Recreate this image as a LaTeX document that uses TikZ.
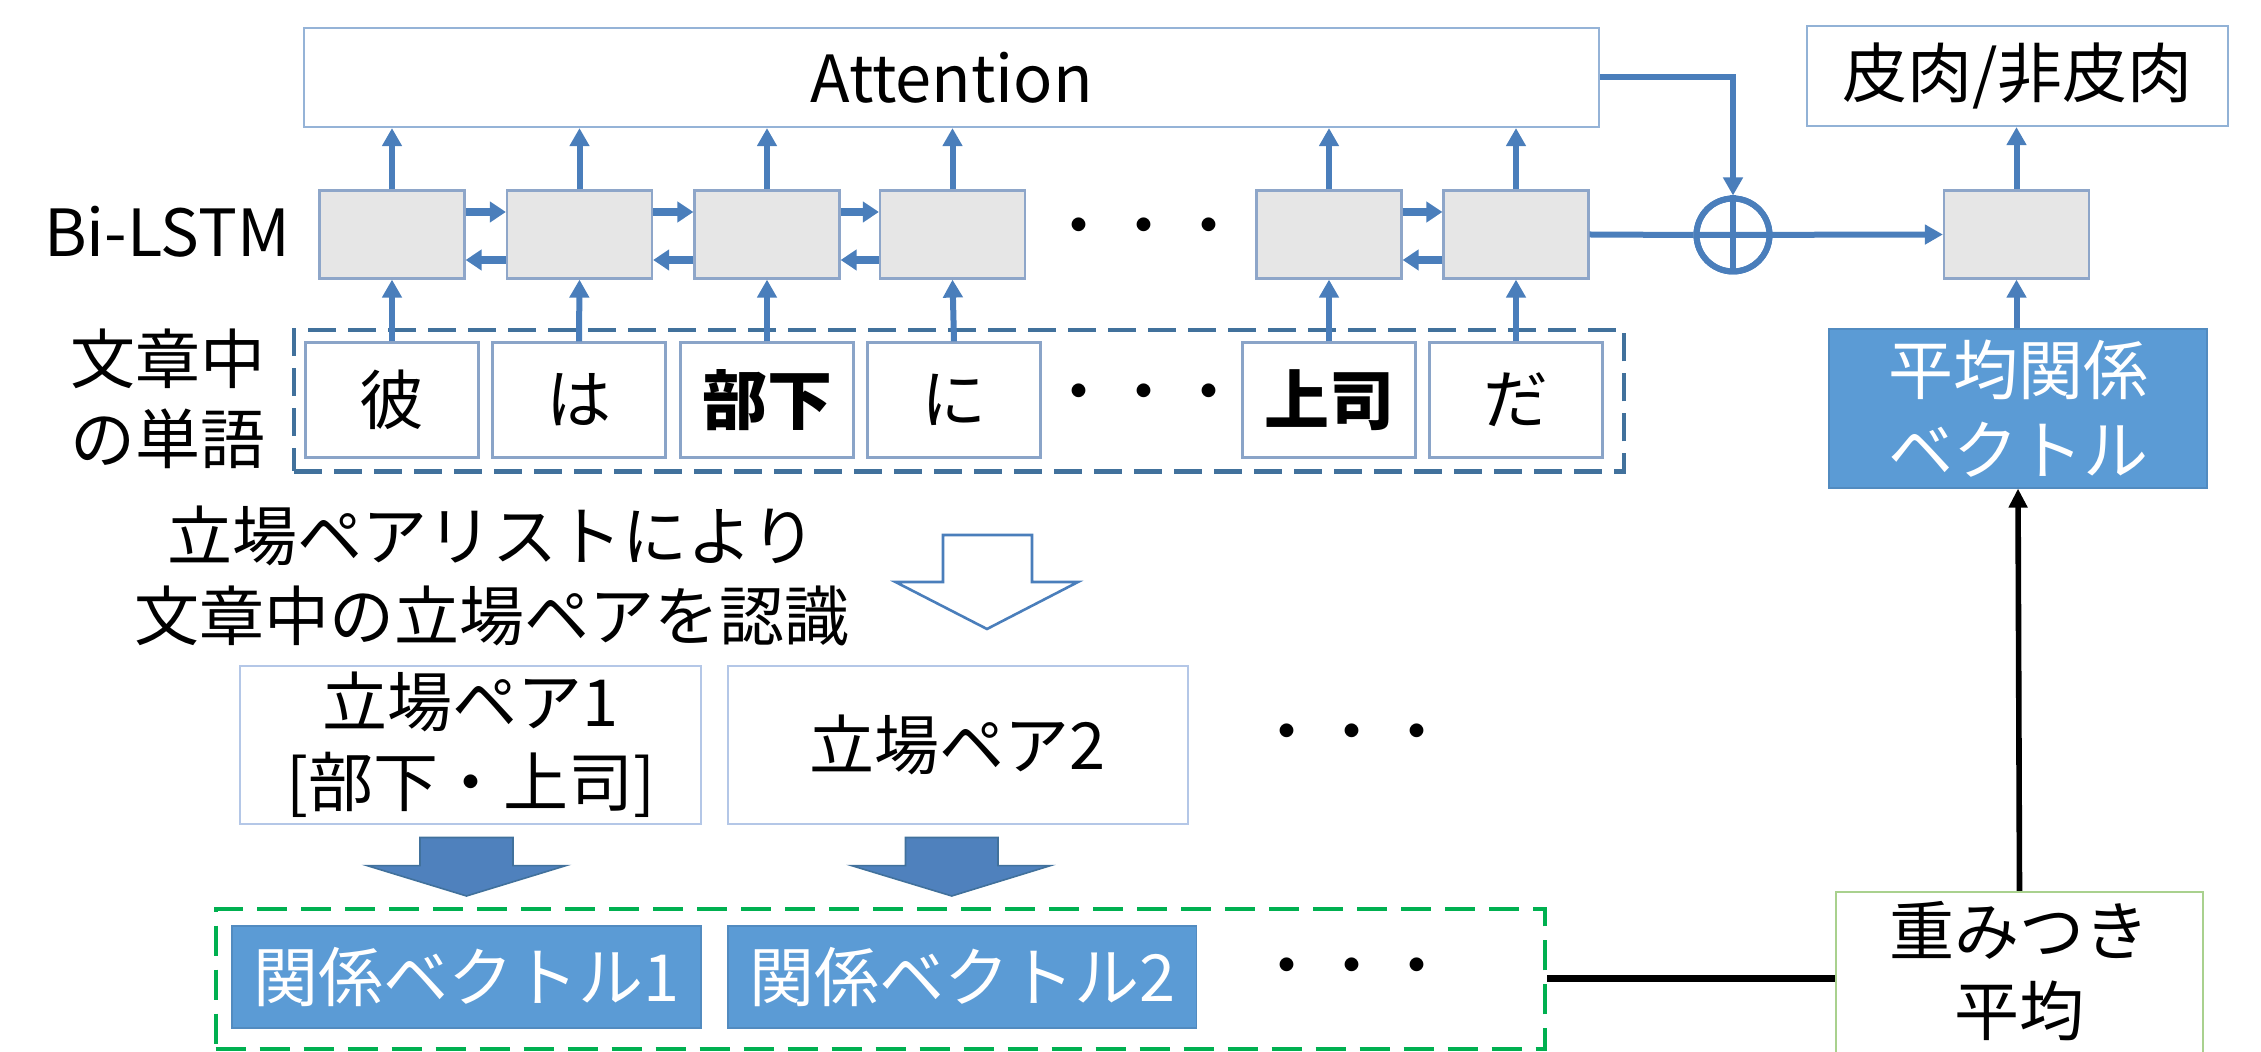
\documentclass[tikz,border=0pt]{standalone}
\usepackage{fontspec}
\setmainfont{Noto Sans CJK JP}
\usetikzlibrary{arrows.meta,calc}
\definecolor{lineblue}{HTML}{4A7EBB}
\definecolor{lstmfill}{HTML}{E6E6E6}
\definecolor{lstmborder}{HTML}{8EA6C9}
\definecolor{attborder}{HTML}{95B3D7}
\definecolor{wordborder}{HTML}{8AA4C8}
\definecolor{dashblue}{HTML}{41719C}
\definecolor{vecfill}{HTML}{5B9BD5}
\definecolor{pairborder}{HTML}{B4C7E7}
\definecolor{wavgborder}{HTML}{A9D18E}
\definecolor{framegreen}{HTML}{00B050}
\definecolor{bigarrowfill}{HTML}{4F81BD}
\definecolor{bigarrowdraw}{HTML}{41719C}
\begin{document}
\begin{tikzpicture}[x=0.5pt,y=-0.5pt,
  every node/.style={font=\fontsize{32.5pt}{40pt}\selectfont, inner sep=0pt, align=center},
  attbox/.style={draw=attborder, line width=1.1pt, fill=white},
  lstm/.style={draw=lstmborder, line width=1.1pt, fill=lstmfill, minimum width=72.5pt, minimum height=44pt},
  word/.style={draw=wordborder, line width=1.1pt, fill=white, minimum width=86.5pt, minimum height=57.5pt},
  pairbox/.style={draw=pairborder, line width=1.1pt, fill=white, minimum height=79pt},
  vecbox/.style={fill=vecfill, draw=vecfill!90!black, line width=0.6pt, text=white},
  upar/.style={draw=lineblue, line width=3pt, -{Triangle[width=9.5pt,length=9pt]}},
  sidear/.style={draw=lineblue, line width=4pt, -{Triangle[width=10pt,length=8pt]}},
  blackar/.style={draw=black, line width=2.8pt, -{Triangle[width=9pt,length=9.5pt]}},
  dots/.style={font=\fontsize{32.5pt}{40pt}\selectfont}
]
\useasboundingbox (0,0) rectangle (2261,1052);

% Attention
\node[attbox, minimum width=647.5pt, minimum height=49.5pt] (att) at (951.5,77.5) {Attention};

% output
\node[attbox, draw=lineblue!60, minimum width=210.5pt, minimum height=50pt] (out) at (2017.5,76) {皮肉/非皮肉};

% labels
\node (lbl) at (167,232) {Bi-LSTM};
\node (lblw) at (168,399) {文章中\\の単語};

% word frame
\node[draw=dashblue, line width=2.2pt, dash pattern=on 14pt off 6pt, minimum width=665pt, minimum height=70.75pt] (wframe) at (959,400.75) {};

% LSTM boxes
\node[lstm] (l1) at (392,234.5) {};
\node[lstm] (l2) at (579.5,234.5) {};
\node[lstm] (l3) at (767,234.5) {};
\node[lstm] (l4) at (952.5,234.5) {};
\node[lstm] (l5) at (1329,234.5) {};
\node[lstm] (l6) at (1516,234.5) {};
\node[lstm] (lf) at (2016.5,234.5) {};
\node[dots] (ldots) at (1144,234) {・・・};

% word boxes
\node[word] (w1) at (392,400) {彼};
\node[word] (w2) at (579,400) {は};
\node[word] (w3) at (767,400) {\bfseries 部下};
\node[word] (w4) at (954,400) {に};
\node[word] (w5) at (1329,400) {\bfseries 上司};
\node[word] (w6) at (1516,400) {だ};
\node[dots] (wdots) at (1144,400) {・・・};

% vertical arrows
\foreach \i in {1,...,6} {
  \draw[upar] (w\i.north) -- (l\i.south);
  \draw[upar] (l\i.north) -- (att.south -| l\i.north);
}
% horizontal bidirectional arrows
\foreach \a/\b in {l1/l2,l2/l3,l3/l4,l5/l6} {
  \draw[sidear] ([yshift=11.25pt]\a.east) -- ([yshift=11.25pt]\b.west);
  \draw[sidear] ([yshift=-12.75pt]\b.west) -- ([yshift=-12.75pt]\a.east);
}

% plus circle
\node[circle, draw=lineblue, line width=3pt, minimum size=36.5pt, fill=white] (plus) at (1733,235) {};
\draw[draw=lineblue, line width=3pt] (l6.east) -- (plus.west);
\draw[upar] (plus.west) -- (lf.west);
\draw[draw=lineblue, line width=3pt] (plus.north) -- (plus.south);
\node[circle, draw=lineblue, line width=3pt, minimum size=36.5pt] (plusring) at (plus) {};
\draw[upar, line join=miter] (att.east) -| (plus.north);

% average vector
\node[vecbox, minimum width=189pt, minimum height=79.5pt] (avg) at (2018,408.5) {平均関係\\ベクトル};
\draw[upar] (lf.north) -- (out.south -| lf.north);
\draw[upar] (avg.north -| lf.south) -- (lf.south);

% recognition text
\node (rec) at (492,576) {立場ペアリストにより\\文章中の立場ペアを認識};
\draw[draw=lineblue, line width=1.3pt, fill=white] (943,535) -- (1032,535) -- (1032,582) -- (1078,582) -- (987,629) -- (895.5,582) -- (943,582) -- cycle;

% pair boxes
\node[pairbox, minimum width=230.5pt] (p1) at (470.5,745) {立場ペア1\\{}[部下・上司]};
\node[pairbox, minimum width=230pt] (p2) at (958,745) {立場ペア2};
\node[dots] (pdots) at (1352,740) {・・・};

% filled arrows
\draw[fill=bigarrowfill, draw=bigarrowdraw, line width=0.8pt] (420,837.5) -- (513,837.5) -- (513,865.6) -- (566,865.6) -- (466.5,896) -- (367,865.6) -- (420,865.6) -- cycle;
\draw[fill=bigarrowfill, draw=bigarrowdraw, line width=0.8pt] (905.5,837.5) -- (998,837.5) -- (998,865.6) -- (1050.6,865.6) -- (951.75,896) -- (851.5,865.6) -- (905.5,865.6) -- cycle;

% green frame with vectors
\node[draw=framegreen, line width=2pt, dash pattern=on 15pt off 7pt, minimum width=664.7pt, minimum height=70.15pt] (gframe) at (880.3,978.85) {};
\node[vecbox, minimum width=234.5pt, minimum height=51pt] (v1) at (466.5,977) {関係ベクトル1};
\node[vecbox, minimum width=234.25pt, minimum height=51pt] (v2) at (962.25,977) {関係ベクトル2};
\node[dots] (vdots) at (1352,974) {・・・};

% weighted average
\node[draw=wavgborder, line width=1.1pt, fill=white, minimum width=183.5pt, minimum height=90pt] (wavg) at (2019.5,982) {};
\node (wavgtext) at (2019.5,971) {重みつき\\平均};
\draw[draw=black, line width=3.4pt] (gframe.east) -- (gframe.east -| wavg.west);
\draw[blackar] (wavg.north) -- (avg.south);
\end{tikzpicture}
\end{document}
